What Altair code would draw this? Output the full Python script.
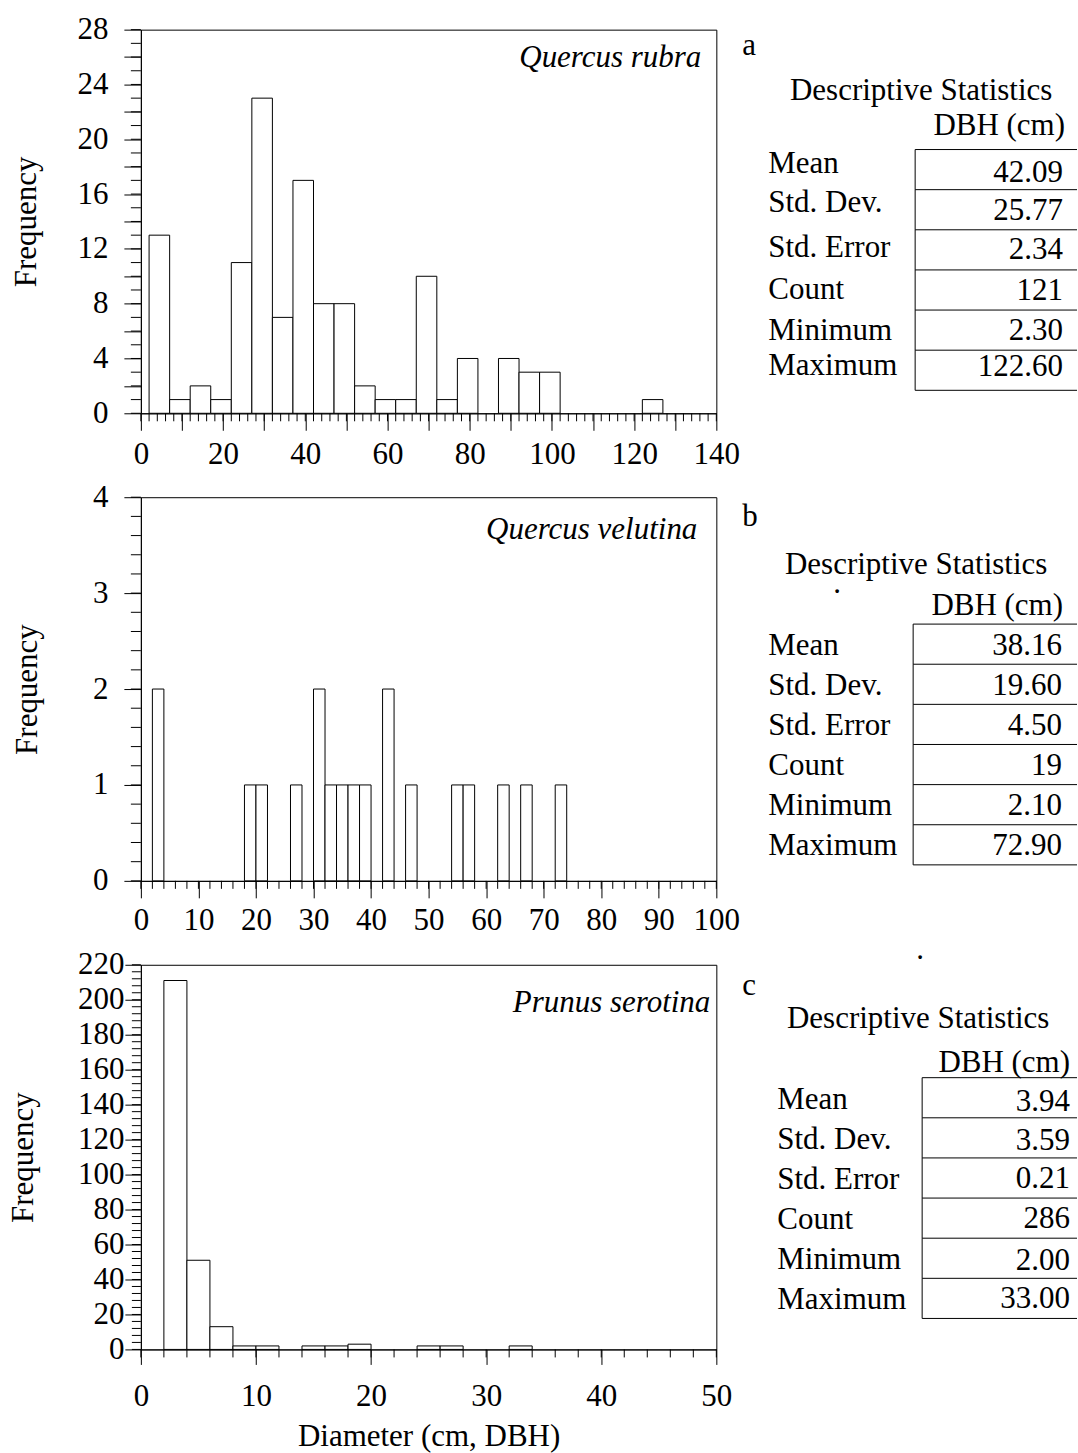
import altair as alt
import pandas as pd

FONT = "Liberation Serif"
FS = 31

# ---- diameter-class counts (bin start, bin width, counts per class) ----
rubra_start, rubra_width = 2, 5
rubra_counts = [13, 1, 2, 1, 11, 23, 7, 17, 8, 8, 2, 1, 1, 10, 1, 4, 0, 4, 3, 3,
                0, 0, 0, 0, 1]

velutina_start, velutina_width = 2, 2
velutina_counts = [2, 0, 0, 0, 0, 0, 0, 0, 1, 1, 0, 0, 1, 0, 2, 1, 1, 1, 1, 0,
                   2, 0, 1, 0, 0, 0, 1, 1, 0, 0, 1, 0, 1, 0, 0, 1]

serotina_start, serotina_width = 2, 2
serotina_counts = [211, 51, 13, 2, 2, 0, 2, 2, 3, 0, 0, 2, 2, 0, 0, 2]

# ---- descriptive statistics tables ----
TABLE_TITLE = "Descriptive Statistics"
TABLE_HEADER = "DBH (cm)"
stat_names = ["Mean", "Std. Dev.", "Std. Error", "Count", "Minimum", "Maximum"]
rubra_stats = ["42.09", "25.77", "2.34", "121", "2.30", "122.60"]
velutina_stats = ["38.16", "19.60", "4.50", "19", "2.10", "72.90"]
serotina_stats = ["3.94", "3.59", "0.21", "286", "2.00", "33.00"]

species = ["Quercus rubra", "Quercus velutina", "Prunus serotina"]
letters = ["a", "b", "c"]

W = 576
ROW_GAP = 84


def bins_frame(start, width, counts):
    rows = []
    for i, n in enumerate(counts):
        if n > 0:
            lo = start + i * width
            rows.append({"lo": lo, "hi": lo + width, "n": n})
    return pd.DataFrame(rows)


def text_layer(txt, x, y, align="left", baseline="alphabetic", italic=False, dy=0):
    mark = dict(font=FONT, fontSize=FS, color="black", align=align,
                baseline=baseline, dy=dy)
    if italic:
        mark["fontStyle"] = "italic"
    return alt.Chart(pd.DataFrame({"t": [txt]})).mark_text(**mark).encode(
        text="t:N", x=alt.value(x), y=alt.value(y))


def panel(p):
    H = p["height"]
    df = bins_frame(p["start"], p["width"], p["counts"])
    xs = alt.Scale(domain=[0, p["xmax"]], nice=False, zero=False)
    ys = alt.Scale(domain=[0, p["ymax"]], nice=False, zero=True)
    x_title = p.get("x_title") or None

    x_major = list(range(0, p["xmax"] + 1, p["x_major"]))
    y_major = [v * p["y_major"] for v in range(int(round(p["ymax"] / p["y_major"])) + 1)]

    x_axis_kw = dict(
        values=x_major,
        labelExpr=f"datum.value % {p['x_label']} == 0 ? datum.label : ''",
        tickSize=p["x_tick"], labelPadding=p["x_pad"],
        labelFont=FONT, labelFontSize=FS, labelColor="black",
        labelFlush=False, labelOverlap=False,
        tickColor="black", tickWidth=1, domainColor="black", domainWidth=1,
        grid=False,
    )
    if x_title:
        x_axis_kw.update(titleFont=FONT, titleFontSize=FS, titleFontWeight="normal",
                         titleColor="black", titleY=p["x_title_y"],
                         titleBaseline="middle")
    y_axis = alt.Axis(
        values=y_major,
        labelExpr=f"datum.value % {p['y_label']} == 0 ? datum.label : ''",
        tickSize=p["y_tick"], labelPadding=p["y_pad"],
        labelFont=FONT, labelFontSize=FS, labelColor="black",
        labelFlush=False, labelOverlap=False,
        tickColor="black", tickWidth=1, domainColor="black", domainWidth=1,
        grid=False,
        titleFont=FONT, titleFontSize=FS, titleFontWeight="normal",
        titleColor="black", titleX=p["title_x"], titleY=H / 2,
        titleBaseline="middle",
    )

    # one open rectangle per diameter class, from zero up to its count
    bars = alt.Chart(df).mark_rect(fill="white", stroke="black", strokeWidth=1).encode(
        x=alt.X("lo:Q", scale=xs, axis=alt.Axis(**x_axis_kw), title=x_title),
        x2="hi:Q",
        y=alt.Y("n:Q", scale=ys, axis=y_axis, title="Frequency"),
        y2=alt.datum(0),
    )

    # minor tick marks, placed through the same scales
    xm = pd.DataFrame({"t": p["x_minor"]})
    x_minor = alt.Chart(xm).mark_rule(color="black", strokeWidth=1).encode(
        x=alt.X("t:Q", scale=xs, title=x_title),
        y=alt.value(H), y2=alt.value(H + p["x_minor_len"]),
    )
    ym = pd.DataFrame({"t": p["y_minor"]})
    y_minor = alt.Chart(ym).mark_rule(color="black", strokeWidth=1).encode(
        y=alt.Y("t:Q", scale=ys, axis=None),
        x=alt.value(-p["y_minor_len"]), x2=alt.value(0),
    )

    # descriptive statistics table, rows laid out on a band scale
    keys = ["title", "head"] + stat_names
    step = (p["r_bot"] - p["r_top"]) / len(stat_names)
    tscale = alt.Scale(type="band", domain=keys,
                       range=[p["r_top"] - 2 * step, p["r_bot"]],
                       paddingInner=0, paddingOuter=0)

    def ty(pos):
        return alt.Y("key:N", scale=tscale, axis=None, bandPosition=pos)

    # per-row nudges are measured from the middle of each row
    half = step / 2
    stats_df = pd.DataFrame({"key": stat_names, "label": stat_names,
                             "value": p["stats"],
                             "ldy": [d + half for d in p["label_dy"]],
                             "vdy": [d + half for d in p["value_dy"]]})
    t_labels = alt.Chart(stats_df).mark_text(
        font=FONT, fontSize=FS, color="black", align="left", baseline="middle"
    ).encode(y=ty(0), yOffset=alt.YOffset("ldy:Q", scale=None),
             x=alt.value(p["tx_label"]), text="label:N")
    t_values = alt.Chart(stats_df).mark_text(
        font=FONT, fontSize=FS, color="black", align="right", baseline="middle"
    ).encode(y=ty(0), yOffset=alt.YOffset("vdy:Q", scale=None),
             x=alt.value(p["tx_value"]), text="value:N")
    t_title = alt.Chart(pd.DataFrame({"key": ["title"], "t": [TABLE_TITLE]})).mark_text(
        font=FONT, fontSize=FS, color="black", align="center", baseline="middle",
        dy=p["title_dy"]).encode(y=ty(0.5), x=alt.value(p["tx_title"]), text="t:N")
    t_head = alt.Chart(pd.DataFrame({"key": ["head"], "t": [TABLE_HEADER]})).mark_text(
        font=FONT, fontSize=FS, color="black", align="right", baseline="middle",
        dy=p["head_dy"]).encode(y=ty(0.5), x=alt.value(p["tx_head"]), text="t:N")
    t_hlines = alt.Chart(stats_df).mark_rule(color="black", strokeWidth=1).encode(
        y=ty(0), x=alt.value(p["tx_border"]), x2=alt.value(p["tx_right"]))
    t_bottom = alt.Chart(stats_df.tail(1)).mark_rule(color="black", strokeWidth=1).encode(
        y=ty(1), x=alt.value(p["tx_border"]), x2=alt.value(p["tx_right"]))
    t_vline = alt.Chart(stats_df).mark_rule(color="black", strokeWidth=1).encode(
        y=ty(0), y2=alt.Y2("key:N", bandPosition=1), x=alt.value(p["tx_border"]))

    layers = [bars, x_minor, y_minor,
              text_layer(p["species"], p["sp_x"], p["sp_y"], align="right", italic=True),
              text_layer(p["letter"], W + 26, p["letter_y"]),
              t_title, t_head, t_labels, t_values, t_hlines, t_bottom, t_vline]
    for dx, dy in p.get("dots", []):
        layers.append(text_layer(".", dx, dy, align="center"))

    return alt.layer(*layers).resolve_scale(y="independent").properties(width=W, height=H)


panels = [
    dict(counts=rubra_counts, start=rubra_start, width=rubra_width, height=384,
         xmax=140, x_major=10, x_label=20, x_tick=17, x_pad=9.5,
         x_minor=list(range(0, 141, 2)), x_minor_len=8,
         ymax=28, y_major=2, y_label=4, y_tick=17, y_pad=16,
         y_minor=list(range(0, 29)), y_minor_len=10, title_x=-114,
         species=species[0], sp_x=561, sp_y=37, letter=letters[0], letter_y=25,
         stats=rubra_stats, r_top=120, r_bot=361,
         title_dy=2, head_dy=-3,
         label_dy=[-6, -7, -2, 0, 1, -4], value_dy=[3, 1, 0, 1, 1, -3],
         tx_label=628, tx_value=923, tx_border=775, tx_right=937,
         tx_title=781, tx_head=925),
    dict(counts=velutina_counts, start=velutina_start, width=velutina_width, height=384,
         xmax=100, x_major=10, x_label=10, x_tick=17, x_pad=7.5,
         x_minor=list(range(0, 101, 2)), x_minor_len=8,
         ymax=4, y_major=1, y_label=1, y_tick=17, y_pad=16,
         y_minor=[i / 5 for i in range(0, 21)], y_minor_len=10, title_x=-113,
         species=species[1], sp_x=557, sp_y=42, letter=letters[1], letter_y=29,
         stats=velutina_stats, r_top=127, r_bot=368,
         title_dy=1, head_dy=2,
         label_dy=[2, 2, 2, 1, 1, 1], value_dy=[2, 2, 2, 1, 1, 1],
         tx_label=628, tx_value=922, tx_border=773, tx_right=937,
         tx_title=776, tx_head=923, dots=[(697, 96)]),
    dict(counts=serotina_counts, start=serotina_start, width=serotina_width, height=385,
         xmax=50, x_major=10, x_label=10, x_tick=15, x_pad=17.5,
         x_minor=list(range(0, 51, 2)), x_minor_len=8,
         x_title="Diameter (cm, DBH)", x_title_y=87,
         ymax=220, y_major=20, y_label=20, y_tick=16, y_pad=1,
         y_minor=list(range(0, 221, 4)), y_minor_len=9, title_x=-117,
         species=species[2], sp_x=570, sp_y=47, letter=letters[2], letter_y=30,
         stats=serotina_stats, r_top=113, r_bot=354,
         title_dy=2, head_dy=5,
         label_dy=[2, 2, 2, 2, 2, 2], value_dy=[4, 3, 1, 1, 3, 1],
         tx_label=637, tx_value=930, tx_border=782, tx_right=937,
         tx_title=778, tx_head=930, dots=[(780, -6)]),
]

chart = alt.vconcat(*[panel(p) for p in panels], spacing=ROW_GAP, bounds="flush").properties(
    padding={"left": 7, "top": 12, "right": 0, "bottom": 0},
    background="white",
).configure_view(stroke="black", strokeWidth=1)

chart.save("out.html", embed_options={"renderer": "svg", "actions": False})
